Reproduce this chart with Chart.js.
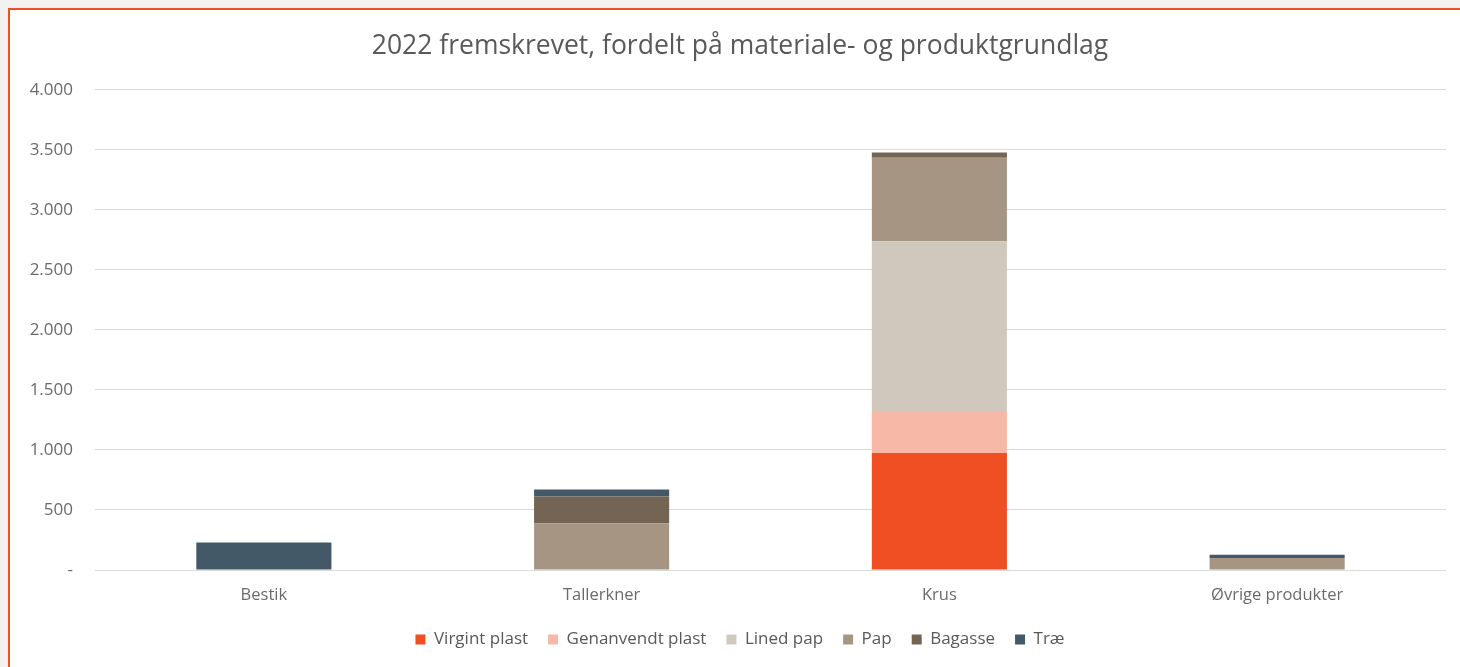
<!DOCTYPE html>
<html>
<head>
<meta charset="utf-8">
<script src="https://cdn.jsdelivr.net/npm/chart.js@4.4.1/dist/chart.umd.min.js"></script>
<style>
  html, body { margin: 0; padding: 0; background: #f3f2f1; overflow: hidden; }
  #frame {
    position: absolute; left: 8px; top: 8px;
    width: 1470px; height: 680px;
    border: 2px solid #f04e23; background: #ffffff;
  }
  #container { position: absolute; left: 0; top: 0; width: 1460px; height: 657px; }
</style>
</head>
<body>
<div id="frame"><div id="container"><canvas id="chart"></canvas></div></div>
<script>
// categories and series
const categories = ['Bestik', 'Tallerkner', 'Krus', 'Øvrige produkter'];
const seriesNames = ['Virgint plast', 'Genanvendt plast', 'Lined pap', 'Pap', 'Bagasse', 'Træ'];
const virgintPlast    = [0, 0, 975, 0];
const genanvendtPlast = [0, 0, 342, 0];
const linedPap        = [0, 0, 1422, 0];
const pap             = [0, 388, 696, 100];
const bagasse         = [0, 225, 42, 0];
const trae            = [230, 57, 0, 27];
const colors = ['#f04e23', '#f8b8a7', '#d0c8bc', '#a69583', '#736453', '#435967'];
const yTicks = [0, 500, 1000, 1500, 2000, 2500, 3000, 3500, 4000];

const seriesValues = [virgintPlast, genanvendtPlast, linedPap, pap, bagasse, trae];
const textColor = '#595959';
const tickColor = '#6b6b6b';
const fontFamily = '"Open Sans", Lato, sans-serif';

function formatDa(v) {
    if (v === 0) return '-';
    return v.toString().replace(/\B(?=(\d{3})+(?!\d))/g, '.');
}

const ctx = document.getElementById('chart').getContext('2d');
new Chart(ctx, {
    type: 'bar',
    data: {
        labels: categories,
        datasets: seriesNames.map((name, i) => ({
            label: name,
            data: seriesValues[i],
            backgroundColor: colors[i],
            borderWidth: 0,
            barPercentage: 0.4,
            categoryPercentage: 1.0
        }))
    },
    options: {
        responsive: true,
        maintainAspectRatio: false,
        animation: false,
        layout: { padding: { left: 0, right: 0, top: 0, bottom: 9 } },
        scales: {
            x: {
                stacked: true,
                afterFit: axis => { axis.height = 41; },
                grid: { display: false, drawTicks: false },
                border: { display: false },
                ticks: { color: tickColor, font: { family: fontFamily, size: 16.5 }, padding: 15 }
            },
            y: {
                stacked: true,
                min: 0,
                max: 4000,
                afterBuildTicks: axis => { axis.ticks = yTicks.map(v => ({ value: v })); },
                afterFit: axis => { axis.width = 85; },
                grid: { color: '#d9d9d9', lineWidth: 1, drawTicks: false },
                border: { display: false },
                ticks: {
                    color: tickColor,
                    font: { family: fontFamily, size: 17 },
                    padding: 22,
                    callback: v => formatDa(v)
                }
            },
            // empty right-hand spacer so the plot ends before the title's centre line
            spacer: {
                type: 'linear',
                position: 'right',
                afterFit: axis => { axis.width = 24; },
                grid: { display: false, drawTicks: false },
                border: { display: false },
                ticks: { display: false }
            }
        },
        plugins: {
            title: {
                display: true,
                text: '2022 fremskrevet, fordelt på materiale- og produktgrundlag',
                color: textColor,
                font: { family: fontFamily, size: 26.5, weight: 'normal' },
                padding: { top: 21, bottom: 27 }
            },
            legend: {
                position: 'bottom',
                labels: {
                    color: textColor,
                    font: { family: fontFamily, size: 17 },
                    boxWidth: 10,
                    boxHeight: 10,
                    padding: 20
                }
            },
            tooltip: { enabled: false }
        }
    }
});
</script>
</body>
</html>
